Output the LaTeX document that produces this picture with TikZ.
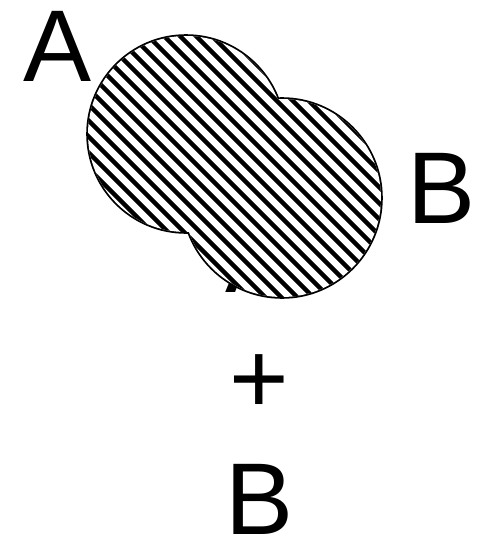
\documentclass[tikz,border=0pt]{standalone}
\usepackage{fontspec}
\setmainfont{Liberation Sans}
\begin{document}
\begin{tikzpicture}[x=1pt,y=-1pt,
  lbl/.style={anchor=base,inner sep=0pt,font=\fontsize{102}{121}\selectfont},
  hatchline/.style={line width=4.4pt,black},
  rim/.style={line width=3.6pt,black}]
\useasboundingbox (0,0) rectangle (481,541);
% stacked text behind the circles
\node[lbl] (ha) at (260,292) {A};
\node[lbl] (plus) at (259,413) {+};
\node[lbl] (hb) at (260,534) {B};
% labels
\node[lbl] (la) at (58,81) {A};
\node[lbl] (lb) at (442,223) {B};
% circles
\coordinate (ca) at (186,134);
\coordinate (cb) at (282,198);
\draw[rim] (ca) circle[radius=98];
\draw[rim] (cb) circle[radius=99];
\fill[white] (ca) circle[radius=98];
\fill[white] (cb) circle[radius=99];
\begin{scope}
\clip (ca) circle[radius=98] (cb) circle[radius=99];
\foreach \c in {-400,-384,...,420} {
  \draw[hatchline] (\c,0) -- ++(541,541);
}
\end{scope}
\end{tikzpicture}
\end{document}
